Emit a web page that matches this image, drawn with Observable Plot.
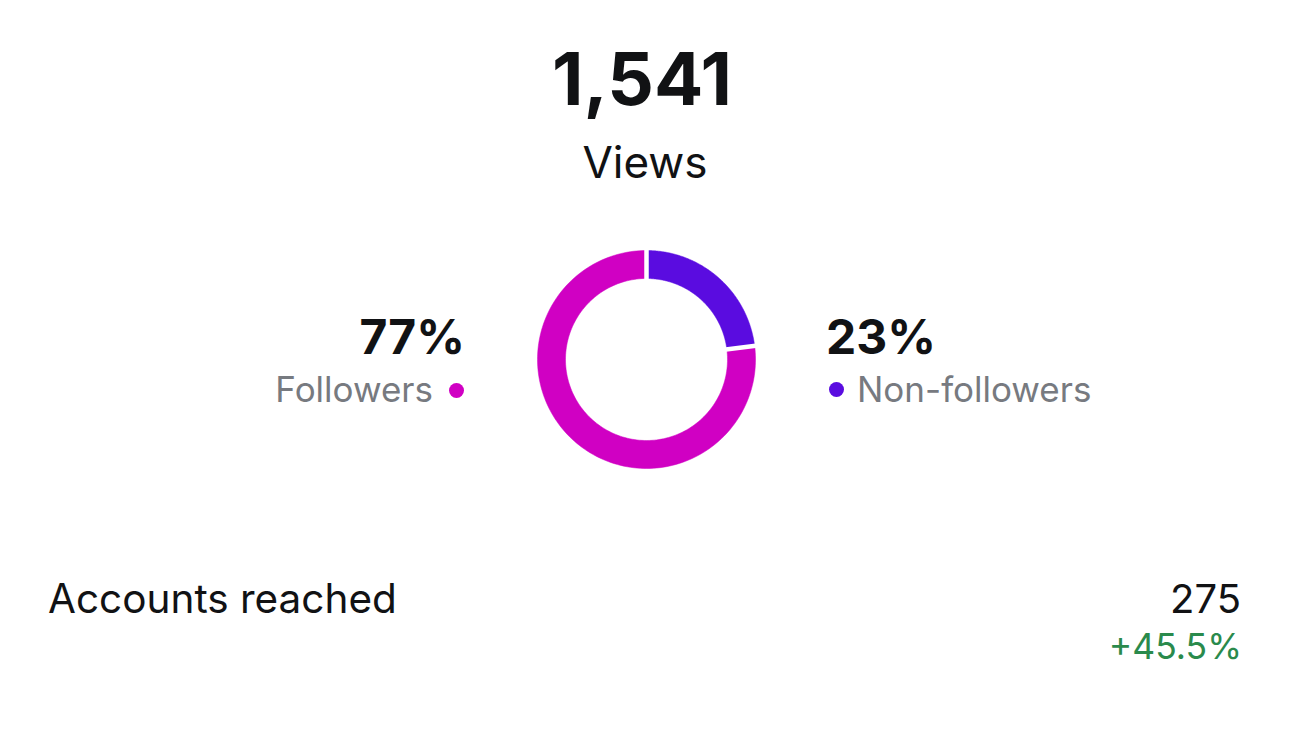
<!DOCTYPE html>
<html>
<head>
<meta charset="utf-8">
<script src="https://cdn.jsdelivr.net/npm/d3@7"></script>
<script src="https://cdn.jsdelivr.net/npm/@observablehq/plot@0.6"></script>
<style>
  html, body { margin: 0; padding: 0; background: #fff; }
  #page { position: relative; width: 1290px; height: 734px; overflow: hidden; font-family: Inter, "Noto Sans", sans-serif; color: #111214; }
  .t { position: absolute; white-space: nowrap; line-height: 1; }
  .dot { position: absolute; border-radius: 50%; }
  #donut { position: absolute; left: 516px; top: 229px; }
</style>
</head>
<body>
<div id="page"></div>
<script>
// ---- data ----
const headlineValue = "1,541";
const headlineLabel = "Views";
const segmentNames = ["Non-followers", "Followers"];
const segmentShares = [23, 77];
const segmentColors = ["#5a0ce0", "#d000c3"];
const accountsLabel = "Accounts reached";
const accountsValue = "275";
const accountsChange = "+45.5%";

const page = document.getElementById("page");

// ---- donut via Plot ----
const R_OUT = 109, R_IN = 81, HALF = 130;
const pie = d3.pie().sort(null).value(d => d.share);
const segs = pie(segmentNames.map((name, i) => ({name, share: segmentShares[i]})));

function sectorPoints(a) {
  const pts = [];
  const n = 160;
  for (let i = 0; i <= n; i++) {
    const t = a.startAngle + (a.endAngle - a.startAngle) * i / n;
    pts.push({x: R_OUT * Math.sin(t), y: R_OUT * Math.cos(t)});
  }
  for (let i = n; i >= 0; i--) {
    const t = a.startAngle + (a.endAngle - a.startAngle) * i / n;
    pts.push({x: R_IN * Math.sin(t), y: R_IN * Math.cos(t)});
  }
  return pts;
}
const boundaries = segs.map(s => ({
  x1: (R_IN - 3) * Math.sin(s.startAngle), y1: (R_IN - 3) * Math.cos(s.startAngle),
  x2: (R_OUT + 3) * Math.sin(s.startAngle), y2: (R_OUT + 3) * Math.cos(s.startAngle)
}));

const donut = Plot.plot({
  width: 2 * HALF, height: 2 * HALF,
  margin: 0,
  x: {domain: [-HALF, HALF], axis: null},
  y: {domain: [-HALF, HALF], axis: null},
  marks: [
    ...segs.map((s, i) => Plot.line(sectorPoints(s), {x: "x", y: "y", fill: segmentColors[i], stroke: segmentColors[i], strokeWidth: 0.5, curve: "linear-closed"})),
    Plot.link(boundaries, {x1: "x1", y1: "y1", x2: "x2", y2: "y2", stroke: "#fff", strokeWidth: 4.5})
  ]
});
donut.id = "donut";
page.appendChild(donut);

// ---- text ----
function addText(str, opts) {
  const el = document.createElement("div");
  el.className = "t";
  el.textContent = str;
  const fs = opts.size;
  el.style.fontSize = fs + "px";
  el.style.fontWeight = opts.weight || 400;
  el.style.color = opts.color || "#111214";
  el.style.top = (opts.baseline - 0.87 * fs) + "px";
  if (opts.align === "center") {
    el.style.left = (opts.x - 400) + "px"; el.style.width = "800px"; el.style.textAlign = "center";
  } else if (opts.align === "right") {
    el.style.right = (1290 - opts.x) + "px"; el.style.textAlign = "right";
  } else {
    el.style.left = opts.x + "px";
  }
  page.appendChild(el);
}
function addDot(cx, cy, r, color) {
  const d = document.createElement("div");
  d.className = "dot";
  d.style.left = (cx - r) + "px"; d.style.top = (cy - r) + "px";
  d.style.width = (2 * r) + "px"; d.style.height = (2 * r) + "px";
  d.style.background = color;
  page.appendChild(d);
}

addText(headlineValue, {size: 73, weight: 700, x: 642, baseline: 106, align: "center"});
addText(headlineLabel, {size: 44, x: 645, baseline: 178, align: "center"});

const fIdx = segmentNames.indexOf("Followers"), nIdx = segmentNames.indexOf("Non-followers");
addText(segmentShares[fIdx] + "%", {size: 48, weight: 700, x: 465, baseline: 355, align: "right"});
addText(segmentNames[fIdx], {size: 35, color: "#777a80", x: 433, baseline: 402, align: "right"});
addDot(456, 390, 7.5, segmentColors[fIdx]);

addText(segmentShares[nIdx] + "%", {size: 48, weight: 700, x: 826, baseline: 355});
addDot(836, 389, 7.5, segmentColors[nIdx]);
addText(segmentNames[nIdx], {size: 35, color: "#777a80", x: 857, baseline: 402});

addText(accountsLabel, {size: 40.5, x: 48, baseline: 614});
addText(accountsValue, {size: 40, x: 1241, baseline: 614, align: "right"});
addText(accountsChange, {size: 35.5, color: "#2a8a4c", x: 1242, baseline: 660, align: "right"});
</script>
</body>
</html>
